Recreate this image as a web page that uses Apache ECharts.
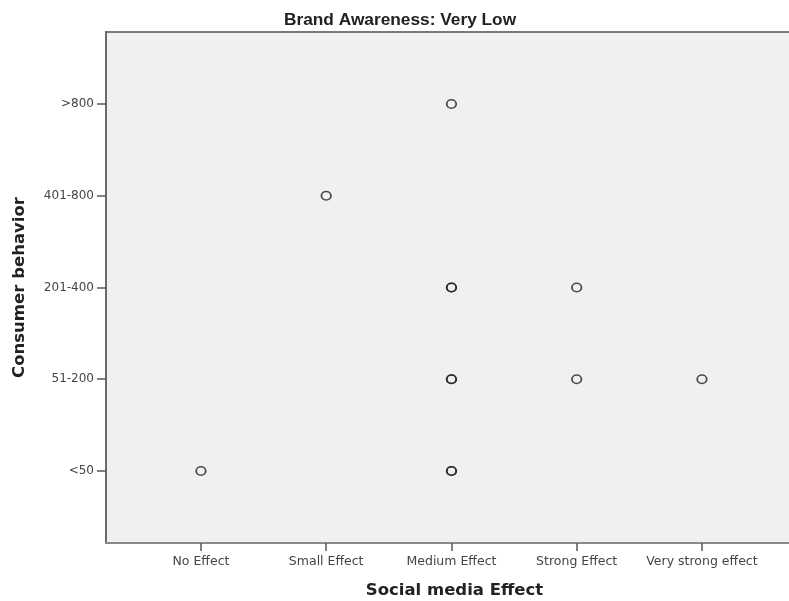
<!DOCTYPE html>
<html>
<head>
<meta charset="utf-8">
<script src="https://cdn.jsdelivr.net/npm/echarts@6/dist/echarts.min.js"></script>
<style>
html,body{margin:0;padding:0;background:#fff;}
#c{width:789px;height:601px;}
</style>
</head>
<body>
<div id="c"></div>
<script>
const xCategories = ["No Effect", "Small Effect", "Medium Effect", "Strong Effect", "Very strong effect"];
const yCategories = ["<50", "51-200", "201-400", "401-800", ">800"];
// each case: [social media effect, consumer behavior]
const xValues = ["No Effect", "Small Effect", "Medium Effect", "Medium Effect", "Medium Effect", "Medium Effect", "Medium Effect", "Medium Effect", "Medium Effect", "Strong Effect", "Strong Effect", "Very strong effect"];
const yValues = ["<50", "401-800", ">800", "201-400", "201-400", "51-200", "51-200", "<50", "<50", "201-400", "51-200", "51-200"];

const points = xValues.map((x, i) => [xCategories.indexOf(x), yCategories.indexOf(yValues[i])]);

const chart = echarts.init(document.getElementById('c'), null, {renderer: 'canvas'});
const xLabelFont = {fontFamily: 'DejaVu Sans, sans-serif', fontSize: 12.5, color: '#444'};
const yLabelFont = {fontFamily: 'DejaVu Sans, sans-serif', fontSize: 12, color: '#444'};
chart.setOption({
  animation: false,
  backgroundColor: '#ffffff',
  title: {
    text: 'Brand Awareness: Very Low',
    left: 279,
    top: 7,
    textStyle: {fontFamily: 'Liberation Sans, Arial, sans-serif', fontWeight: 'bold', fontSize: 17.3, color: '#222'}
  },
  grid: {
    left: 106, right: -3, top: 32, bottom: 58,
    outerBoundsMode: 'none',
    containLabel: false,
    show: true, backgroundColor: '#f0f0f0', borderColor: '#7a7a7a', borderWidth: 2
  },
  xAxis: {
    type: 'value',
    min: -0.758, max: 4.719,
    name: 'Social media Effect',
    nameLocation: 'middle',
    nameGap: 39,
    nameTextStyle: {fontFamily: 'DejaVu Sans, sans-serif', fontWeight: 'bold', fontSize: 16.5, color: '#222', padding: [0, 0, 0, 11]},
    splitLine: {show: false},
    axisLine: {show: true, onZero: false, lineStyle: {color: '#8a8a8a', width: 2}},
    axisTick: {show: true, length: 8, inside: false, customValues: [0,1,2,3,4], lineStyle: {color: '#555', width: 1.5}},
    axisLabel: {customValues: [0,1,2,3,4], margin: 12, formatter: v => xCategories[Math.round(v)] || '', ...xLabelFont}
  },
  yAxis: {
    type: 'value',
    min: -0.785, max: 4.785,
    name: 'Consumer behavior',
    nameLocation: 'middle',
    nameGap: 78,
    nameTextStyle: {fontFamily: 'DejaVu Sans, sans-serif', fontWeight: 'bold', fontSize: 16.5, color: '#222'},
    splitLine: {show: false},
    axisLine: {show: true, onZero: false, lineStyle: {color: '#6a6a6a', width: 2}},
    axisTick: {show: true, length: 9, customValues: [0,1,2,3,4], lineStyle: {color: '#555', width: 1.5}},
    axisLabel: {customValues: [0,1,2,3,4], margin: 12, formatter: v => yCategories[Math.round(v)] || '', ...yLabelFont}
  },
  series: [{
    type: 'scatter',
    data: points,
    symbol: 'circle',
    symbolSize: [9.5, 8.5],
    itemStyle: {color: 'rgba(0,0,0,0)', borderColor: '#222', borderWidth: 1.7},
    emphasis: {disabled: true}
  }]
});
</script>
</body>
</html>
